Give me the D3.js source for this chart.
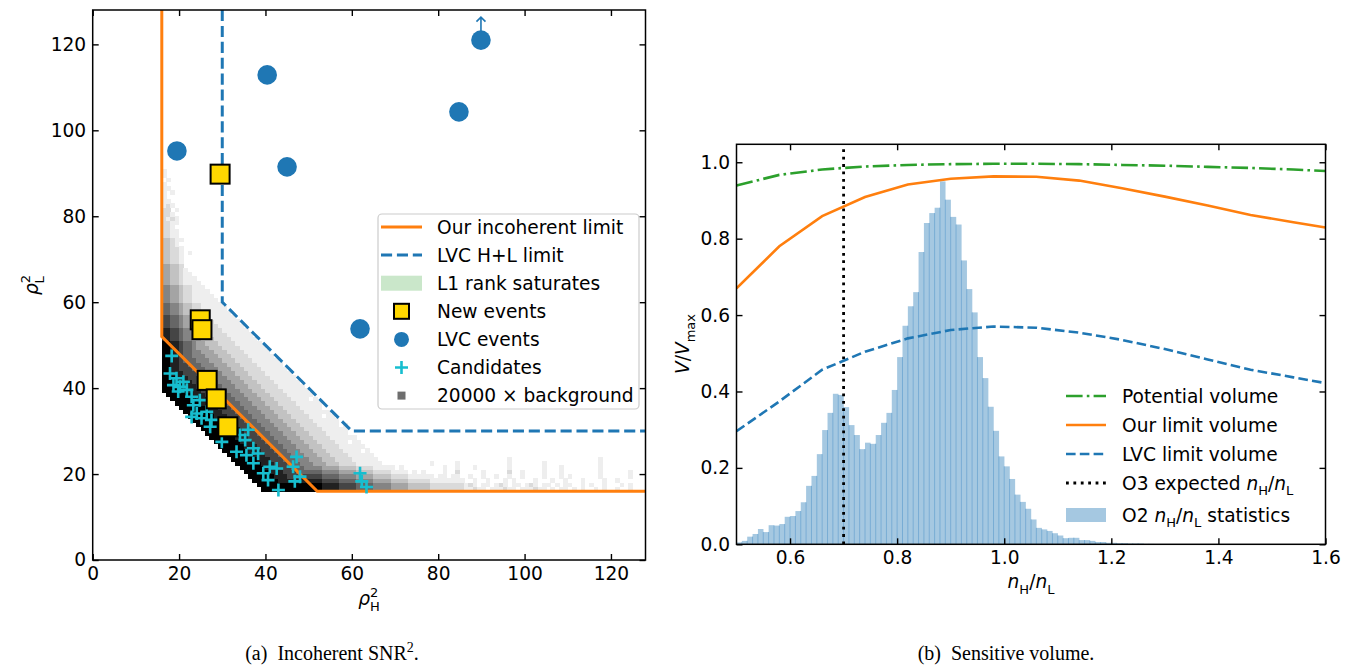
<!DOCTYPE html>
<head>
<meta charset="utf-8">
<script src="https://cdn.jsdelivr.net/npm/d3@7"></script>
<style>
  body { margin: 0; background: #fff; }
  text { font-family: "DejaVu Sans", sans-serif; }
</style>
</head>
<body>
<script>
// ---------------- panel (a) data : incoherent SNR^2 ----------------
var ticksA = [0, 20, 40, 60, 80, 100, 120]
var limitOurs = [[16, 128], [16, 52], [52, 16], [128, 16]]
var limitLVC = [[30, 128], [30, 60], [60, 30], [128, 30]]
var newEvents = [[29.5, 89.8], [24.9, 55.9], [25.3, 53.6], [26.5, 41.8], [28.6, 37.5], [31.3, 31]]
var lvcEvents = [[19.5, 95.2], [40.4, 112.9], [45, 91.5], [61.9, 53.8], [84.8, 104.3], [89.9, 121]]
var lvcOffScale = [5]
var candidates = [[18.3, 47.5], [17.9, 43.4], [19.4, 42.3], [21, 41.5], [18.7, 40.7], [20.2, 40.3],
  [21.8, 39.6], [19.8, 39.2], [22.9, 38], [24.8, 37.2], [23.3, 36], [26.4, 34.5], [24.1, 34.1],
  [22.9, 33.3], [25.2, 33], [27.5, 32.6], [27.2, 31], [29.9, 27.5], [34.1, 29.1], [36, 30.3],
  [35.3, 27.9], [37.2, 26], [33.3, 25.2], [35.6, 24.4], [38.3, 24.8], [37.2, 22.5], [41, 21.7],
  [39.5, 20.2], [42.6, 21.3], [40.6, 18.6], [43, 16.3], [47.2, 24], [46.4, 21.7], [48, 19.4],
  [46.8, 18.3], [61.9, 20.2], [62.3, 18.3], [63.4, 17]]

// background histogram: one string per row (rho_L^2 = 16, 17, ...), one digit per unit cell, 0..9 darkness
var bgFirstRow = 16
var bgRowStart = [39, 38, 37, 36, 35, 34, 33, 32, 31, 30, 29, 28, 27, 26, 25, 24, 23, 22, 21, 20, 19, 18, 17,
  16, 16, 16, 16, 16, 16, 16, 16, 16, 16, 16, 16, 16, 16, 16, 16, 16, 16, 16, 16, 16, 16, 16, 16, 16, 16,
  16, 16, 16, 16, 16, 16, 16, 16, 16, 16, 16, 16, 16, 16, 16, 16, 16, 16, 16, 16, 16, 16, 16, 16, 16, 16]
var bgRows = [
  "99999999999999888877776666555544443333322222222" + "1121101112110111211010110101001010010010",
  "999999999999999888877776666555544443333322222222" + "1210110121011012101101011001010010001010",
  "9999998888888888777766665555444433332222211111111" + "0010010001010000100010010001000010010000",
  "99999988877777777666655554444333322221111110110110" + "0100100100100100001000101000000100000010",
  "999999888777666666555544443333222211110101",
  "99999988877766655554444333322221111101",
  "999999888777666555444333222211111100",
  "9999998887776665554443332222111111",
  "9999998887776665554443332222111111",
  "9999998887776665554443332222111101",
  "9999998887776665554443332222111111",
  "9999998887776665554443332222111011",
  "9999998887776665554443332222111111",
  "9999998887776665554443332222111110",
  "9999998887776665554443332222111111",
  "99999988877766655544433322221111101",
  "9999998887776665554443332222111111",
  "9999998887776665554443332222111011",
  "9999998887776665554443332222111111",
  "9999998887776665554443332222111110",
  "9999998887776665554443332222111111",
  "9999998887776665554443332222111101",
  "9999998887776665554443332222111111",
  "9999998887776665554443332222111111",
  "999998887776665554443332222111111",
  "99998887776665554443332222111111",
  "9998887776665554443332222111111",
  "998887776665554443332222111111",
  "99887776665554443332222111111",
  "9988776665554443332222111111",
  "998876665554443332222111111",
  "99887665554443332222111111",
  "9988766554443332222111111",
  "998876654443332222111111",
  "99887665443332222111111",
  "8877655443332222111111",
  "887765543332222111111",
  "88776554332222111111",
  "7766544332222111111",
  "776654432222111111",
  "77665443222111111",
  "6655433222111111",
  "665543322111111",
  "66554332211111",
  "5544322111111",
  "554432211111",
  "55443221111",
  "5544322111",
  "443321111",
  "44332111",
  "4433211",
  "443321",
  "44332",
  "33221",
  "33221",
  "3322101",
  "33221",
  "3321",
  "33211",
  "2211",
  "2211",
  "221",
  "2211",
  "2121",
  "221",
  "2201",
  "121",
  "11",
  "1",
  "101",
  "11",
  "1",
  "01",
  "1",
  "1"
]
var bgSpeckles = [[81, 20, 1], [84, 20, 2], [90, 20, 1], [96, 20, 2], [99, 20, 1], [104, 20, 1], [108, 20, 1],
  [117, 20, 1], [124, 20, 1], [81, 21, 1], [84, 21, 1], [96, 21, 1], [104, 21, 1], [108, 21, 1], [117, 21, 1],
  [84, 22, 1], [96, 22, 1], [104, 22, 1], [117, 22, 1], [96, 23, 1], [117, 23, 1], [78, 22, 1], [88, 21, 1]]

var legendA = ["Our incoherent limit", "LVC H+L limit", "L1 rank saturates", "New events",
  "LVC events", "Candidates", "20000 \u00d7 background"]

// ---------------- panel (b) data : sensitive volume ----------------
var ticksBx = [0.6, 0.8, 1.0, 1.2, 1.4, 1.6]
var ticksBy = [0, 0.2, 0.4, 0.6, 0.8, 1.0]
var histStart = 0.5, histBin = 0.01
var histHeights = [0.005, 0.009, 0.02, 0.027, 0.04, 0.032, 0.05, 0.049, 0.053, 0.072, 0.074, 0.087,
  0.11, 0.153, 0.179, 0.236, 0.299, 0.344, 0.394, 0.391, 0.359, 0.312, 0.286, 0.249, 0.266, 0.263,
  0.286, 0.318, 0.344, 0.404, 0.49, 0.572, 0.623, 0.66, 0.765, 0.841, 0.867, 0.881, 0.95, 0.902,
  0.857, 0.837, 0.743, 0.668, 0.607, 0.49, 0.435, 0.36, 0.297, 0.23, 0.204, 0.171, 0.13, 0.111,
  0.093, 0.065, 0.043, 0.039, 0.035, 0.029, 0.023, 0.016, 0.017, 0.017, 0.011, 0.011, 0.009, 0.006,
  0.006, 0.004, 0.004, 0.003, 0.003, 0.002, 0.002, 0.002, 0.001, 0.001]
var volX = [0.5, 0.58, 0.66, 0.74, 0.82, 0.9, 0.98, 1.06, 1.14, 1.22, 1.3, 1.38, 1.46, 1.54, 1.6]
var volPotential = [0.939, 0.967, 0.981, 0.989, 0.993, 0.995, 0.996, 0.996, 0.995, 0.993, 0.991, 0.988, 0.985, 0.981, 0.977]
var volOurs = [0.67, 0.78, 0.859, 0.909, 0.942, 0.957, 0.963, 0.962, 0.952, 0.932, 0.91, 0.887, 0.862, 0.843, 0.829]
var volLVC = [0.296, 0.374, 0.457, 0.504, 0.539, 0.561, 0.57, 0.567, 0.554, 0.535, 0.511, 0.484, 0.457, 0.437, 0.422]
var o3Ratio = 0.7

// ---------------- drawing ----------------
var blue = '#1f77b4', orange = '#ff7f0e', green = '#2ca02c', cyan = '#17becf', gold = '#ffd700'
var FS = 18.6

var svg = d3.select('body').append('svg').attr('width', 1353).attr('height', 666)
svg.append('rect').attr('width', 1353).attr('height', 666).attr('fill', '#fff')
var defs = svg.append('defs')

function frame(g, x, y, xt, yt, fmt) {
  var x0 = x.range()[0], x1 = x.range()[1], y0 = y.range()[0], y1 = y.range()[1]
  g.append('g').attr('transform', 'translate(0,' + y0 + ')')
    .call(d3.axisBottom(x).tickValues(xt).tickSizeInner(-6).tickSizeOuter(0).tickPadding(6.5).tickFormat(fmt))
  g.append('g').attr('transform', 'translate(0,' + y1 + ')')
    .call(d3.axisTop(x).tickValues(xt).tickSizeInner(-6).tickSizeOuter(0).tickFormat(''))
  g.append('g').attr('transform', 'translate(' + x0 + ',0)')
    .call(d3.axisLeft(y).tickValues(yt).tickSizeInner(-6).tickSizeOuter(0).tickPadding(6.5).tickFormat(fmt))
  g.append('g').attr('transform', 'translate(' + x1 + ',0)')
    .call(d3.axisRight(y).tickValues(yt).tickSizeInner(-6).tickSizeOuter(0).tickFormat(''))
  g.selectAll('.domain').remove()
  g.selectAll('.tick line').attr('stroke', '#000').attr('stroke-width', 1.4)
  g.selectAll('.tick text').attr('font-size', FS).attr('font-family', '"DejaVu Sans", sans-serif').attr('fill', '#000')
  g.append('rect').attr('x', x0).attr('y', y1).attr('width', x1 - x0).attr('height', y0 - y1)
    .attr('fill', 'none').attr('stroke', '#000').attr('stroke-width', 1.5)
}

// text with italic / sub / sup pieces
function rich(text, parts, size) {
  var base = 0
  parts.forEach(function (p) {
    var t = text.append('tspan').text(p.t)
    var shift = p.sub ? 0.3 * size : p.sup ? -0.42 * size : 0
    t.attr('dy', shift - base)
    base = shift
    if (p.it) t.attr('font-style', 'italic')
    if (p.sub || p.sup) t.attr('font-size', 0.7 * size)
    if (p.dx) t.attr('dx', p.dx)
  })
  return text
}

function clip(id, x, y) {
  defs.append('clipPath').attr('id', id).append('rect')
    .attr('x', x.range()[0]).attr('y', y.range()[1])
    .attr('width', x.range()[1] - x.range()[0]).attr('height', y.range()[0] - y.range()[1])
}

// ===== panel (a)
var xA = d3.scaleLinear().domain([0, 128]).range([92.7, 645.5])
var yA = d3.scaleLinear().domain([0, 128]).range([560, 10])
var grey = d3.scaleSequential(d3.interpolateGreys).domain([-0.2, 9])
clip('clipA', xA, yA)

var a = svg.append('g')
var plotA = a.append('g').attr('clip-path', 'url(#clipA)')

var cells = []
bgRows.forEach(function (row, i) {
  row.split('').forEach(function (c, j) {
    if (+c) cells.push({ x: bgRowStart[i] + j, y: bgFirstRow + i, v: +c })
  })
})
bgSpeckles.forEach(function (d) { cells.push({ x: d[0], y: d[1], v: d[2] }) })

plotA.append('g').attr('shape-rendering', 'crispEdges').selectAll('rect').data(cells).enter().append('rect')
  .attr('x', function (d) { return xA(d.x) })
  .attr('y', function (d) { return yA(d.y + 1) })
  .attr('width', function (d) { return xA(d.x + 1) - xA(d.x) + 0.4 })
  .attr('height', function (d) { return yA(d.y) - yA(d.y + 1) + 0.4 })
  .attr('fill', function (d) { return grey(d.v) })

var lineA = d3.line().x(function (d) { return xA(d[0]) }).y(function (d) { return yA(d[1]) })
plotA.append('path').attr('d', lineA(limitLVC)).attr('fill', 'none').attr('stroke', blue)
  .attr('stroke-width', 3).attr('stroke-dasharray', '11.1,4.8')
plotA.append('path').attr('d', lineA(limitOurs)).attr('fill', 'none').attr('stroke', orange)
  .attr('stroke-width', 3)

var plus = 'M-6.5,0H6.5M0,-6.5V6.5'
plotA.append('g').selectAll('path').data(candidates).enter().append('path')
  .attr('d', plus).attr('stroke', cyan).attr('stroke-width', 2.6)
  .attr('transform', function (d) { return 'translate(' + xA(d[0]) + ',' + yA(d[1]) + ')' })

plotA.append('g').selectAll('rect').data(newEvents).enter().append('rect')
  .attr('x', function (d) { return xA(d[0]) - 9.5 }).attr('y', function (d) { return yA(d[1]) - 9.5 })
  .attr('width', 19).attr('height', 19).attr('fill', gold).attr('stroke', '#000').attr('stroke-width', 2)

plotA.append('g').selectAll('circle').data(lvcEvents).enter().append('circle')
  .attr('cx', function (d) { return xA(d[0]) }).attr('cy', function (d) { return yA(d[1]) })
  .attr('r', 9.8).attr('fill', blue)

lvcOffScale.forEach(function (i) {
  var cx = xA(lvcEvents[i][0]), cy = yA(lvcEvents[i][1])
  a.append('path').attr('d', 'M' + cx + ',' + (cy - 9) + 'V' + (cy - 23) + 'M' + (cx - 4.5) + ',' + (cy - 18.5) +
    'L' + cx + ',' + (cy - 23) + 'L' + (cx + 4.5) + ',' + (cy - 18.5))
    .attr('fill', 'none').attr('stroke', blue).attr('stroke-width', 1.6)
})

frame(a, xA, yA, ticksA, ticksA, d3.format('d'))

rich(a.append('text').attr('x', 369).attr('y', 605).attr('text-anchor', 'middle').attr('font-size', FS),
  [{ t: '\u03c1', it: 1 }, { t: '2', sup: 1 }, { t: 'H', sub: 1, dx: -8.5 }], FS)
rich(a.append('text').attr('transform', 'translate(38,285) rotate(-90)').attr('text-anchor', 'middle').attr('font-size', FS),
  [{ t: '\u03c1', it: 1 }, { t: '2', sup: 1 }, { t: 'L', sub: 1, dx: -8.5 }], FS)

// legend (a)
var legA = a.append('g')
legA.append('rect').attr('x', 378).attr('y', 214).attr('width', 261).attr('height', 195).attr('rx', 4)
  .attr('fill', '#fff').attr('fill-opacity', 0.85).attr('stroke', '#cccccc').attr('stroke-width', 1.2)
var legRowA = function (i) { return 227 + i * 28.1 }
legA.selectAll('text').data(legendA).enter().append('text')
  .attr('x', 437).attr('y', function (d, i) { return legRowA(i) }).attr('dy', '0.35em')
  .attr('font-size', FS).text(function (d) { return d })
legA.append('line').attr('x1', 381).attr('x2', 422).attr('y1', legRowA(0)).attr('y2', legRowA(0))
  .attr('stroke', orange).attr('stroke-width', 3)
legA.append('line').attr('x1', 381).attr('x2', 422).attr('y1', legRowA(1)).attr('y2', legRowA(1))
  .attr('stroke', blue).attr('stroke-width', 3).attr('stroke-dasharray', '11.1,4.8')
legA.append('rect').attr('x', 381).attr('y', legRowA(2) - 7.5).attr('width', 41).attr('height', 15)
  .attr('fill', green).attr('fill-opacity', 0.25)
legA.append('rect').attr('x', 394).attr('y', legRowA(3) - 7.5).attr('width', 15).attr('height', 15)
  .attr('fill', gold).attr('stroke', '#000').attr('stroke-width', 2)
legA.append('circle').attr('cx', 401.5).attr('cy', legRowA(4)).attr('r', 7.5).attr('fill', blue)
legA.append('path').attr('d', 'M-6.5,0H6.5M0,-6.5V6.5').attr('transform', 'translate(401.5,' + legRowA(5) + ')')
  .attr('stroke', cyan).attr('stroke-width', 2.6)
legA.append('rect').attr('x', 397.5).attr('y', legRowA(6) - 4).attr('width', 8).attr('height', 8).attr('fill', '#6e6e6e')

// ===== panel (b)
var xB = d3.scaleLinear().domain([0.5, 1.6]).range([736.5, 1325.5])
var yB = d3.scaleLinear().domain([0, 1.047]).range([544.3, 144.3])
clip('clipB', xB, yB)
var b = svg.append('g')
var plotB = b.append('g').attr('clip-path', 'url(#clipB)')

var bins = histHeights.map(function (h, i) {
  return { x0: histStart + i * histBin, x1: histStart + (i + 1) * histBin, h: h, prev: i ? histHeights[i - 1] : 0 }
})
plotB.append('g').selectAll('rect').data(bins).enter().append('rect')
  .attr('x', function (d) { return xB(d.x0) }).attr('width', function (d) { return xB(d.x1) - xB(d.x0) + 0.2 })
  .attr('y', function (d) { return yB(d.h) }).attr('height', function (d) { return yB(0) - yB(d.h) })
  .attr('fill', '#a5c8e1')
plotB.append('g').selectAll('line').data(bins).enter().append('line')
  .attr('x1', function (d) { return xB(d.x0) }).attr('x2', function (d) { return xB(d.x0) })
  .attr('y1', yB(0)).attr('y2', function (d) { return yB(Math.min(d.h, d.prev)) })
  .attr('stroke', '#78acd4').attr('stroke-width', 1)

var lineB = function (ys) {
  return d3.line().x(function (d, i) { return xB(volX[i]) }).y(function (d) { return yB(d) })(ys)
}
plotB.append('line').attr('x1', xB(o3Ratio)).attr('x2', xB(o3Ratio)).attr('y1', yB(0)).attr('y2', yB(1.047))
  .attr('stroke', '#000').attr('stroke-width', 2.8).attr('stroke-dasharray', '2.8,4.6')
plotB.append('path').attr('d', lineB(volLVC)).attr('fill', 'none').attr('stroke', blue)
  .attr('stroke-width', 2.6).attr('stroke-dasharray', '9.6,4.2')
plotB.append('path').attr('d', lineB(volOurs)).attr('fill', 'none').attr('stroke', orange).attr('stroke-width', 2.6)
plotB.append('path').attr('d', lineB(volPotential)).attr('fill', 'none').attr('stroke', green)
  .attr('stroke-width', 2.6).attr('stroke-dasharray', '16.6,4.2,2.6,4.2')

frame(b, xB, yB, ticksBx, ticksBy, d3.format('.1f'))

var nHnL = [{ t: 'n', it: 1 }, { t: 'H', sub: 1 }, { t: '/' }, { t: 'n', it: 1 }, { t: 'L', sub: 1 }]
rich(b.append('text').attr('x', 1031).attr('y', 588).attr('text-anchor', 'middle').attr('font-size', FS), nHnL, FS)
rich(b.append('text').attr('transform', 'translate(689,344) rotate(-90)').attr('text-anchor', 'middle').attr('font-size', FS),
  [{ t: 'V', it: 1 }, { t: '/' }, { t: 'V', it: 1 }, { t: 'max', sub: 1 }], FS)

// legend (b)
var legB = b.append('g')
var legRowB = [396, 425, 454, 483, 515]
var legendB = [[{ t: 'Potential volume' }], [{ t: 'Our limit volume' }], [{ t: 'LVC limit volume' }],
  [{ t: 'O3 expected ' }].concat(nHnL), [{ t: 'O2 ' }].concat(nHnL).concat([{ t: ' statistics' }])]
legendB.forEach(function (parts, i) {
  rich(legB.append('text').attr('x', 1122).attr('y', legRowB[i] + 6.5).attr('font-size', FS), parts, FS)
})
legB.append('line').attr('x1', 1066).attr('x2', 1106).attr('y1', legRowB[0]).attr('y2', legRowB[0])
  .attr('stroke', green).attr('stroke-width', 2.6).attr('stroke-dasharray', '16.6,4.2,2.6,4.2')
legB.append('line').attr('x1', 1066).attr('x2', 1106).attr('y1', legRowB[1]).attr('y2', legRowB[1])
  .attr('stroke', orange).attr('stroke-width', 2.6)
legB.append('line').attr('x1', 1066).attr('x2', 1106).attr('y1', legRowB[2]).attr('y2', legRowB[2])
  .attr('stroke', blue).attr('stroke-width', 2.6).attr('stroke-dasharray', '9.6,4.2')
legB.append('line').attr('x1', 1066).attr('x2', 1106).attr('y1', legRowB[3]).attr('y2', legRowB[3])
  .attr('stroke', '#000').attr('stroke-width', 2.8).attr('stroke-dasharray', '2.8,4.6')
legB.append('rect').attr('x', 1066).attr('y', legRowB[4] - 7).attr('width', 40).attr('height', 14).attr('fill', '#a5c8e1')

// ===== captions
var cap = svg.append('g').attr('font-family', '"Liberation Serif", serif').attr('font-size', 20)
rich(cap.append('text').attr('x', 332).attr('y', 660).attr('text-anchor', 'middle').style('font-family', '"Liberation Serif", serif'),
  [{ t: '(a)' }, { t: 'Incoherent SNR', dx: 10 }, { t: '2', sup: 1 }, { t: '.' }], 20)
rich(cap.append('text').attr('x', 1006).attr('y', 660).attr('text-anchor', 'middle').style('font-family', '"Liberation Serif", serif'),
  [{ t: '(b)' }, { t: 'Sensitive volume.', dx: 10 }], 20)
</script>
</body>
